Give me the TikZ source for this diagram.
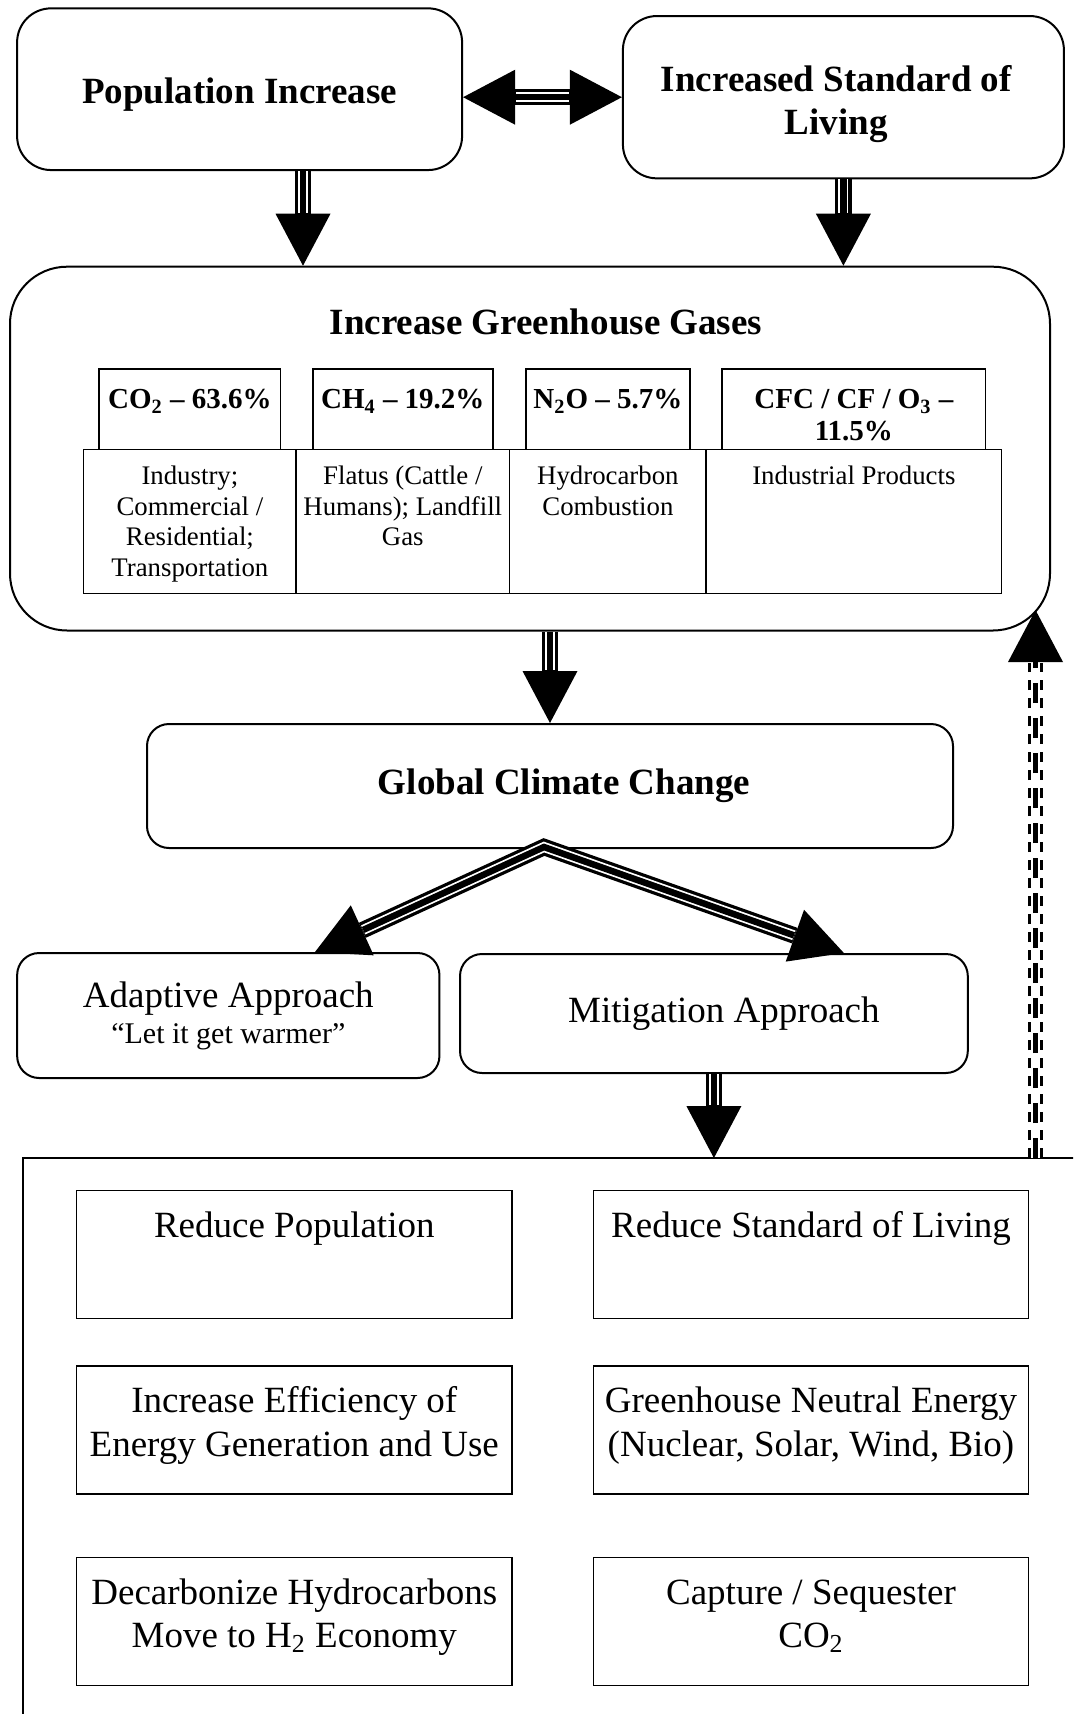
\documentclass[tikz,border=0pt]{standalone}
\usepackage{fontspec}
\setmainfont{Liberation Serif}
\usetikzlibrary{arrows.meta,positioning,calc}
\newcommand{\bigsize}{\fontsize{18.5}{21.75}\selectfont}
\newcommand{\gassize}{\fontsize{14.5}{15.55}\selectfont}
\newcommand{\srcsize}{\fontsize{13.4}{15.35}\selectfont}
\newcommand{\quotesize}{\fontsize{15}{18}\selectfont}
\newcommand{\topbox}[4]{\parbox[c][#2][t]{#1}{\centering\rule{0pt}{#3}#4}}

\begin{document}
\begin{tikzpicture}[x=0.5pt, y=-0.5pt,
  >={Triangle[length=26pt,width=27.5pt,line width=0pt]},
  rbox/.style={draw, line width=1pt, rounded corners=11pt, fill=white, inner sep=0pt, align=center, font=\bigsize},
  boxtext/.style={inner sep=0pt, align=center, font=\bigsize},
  cell/.style={draw, line width=0.75pt, fill=white, inner sep=0pt, outer sep=0pt},
  optbox/.style={draw, line width=0.75pt, fill=white, inner sep=0pt, outer sep=0pt, font=\bigsize},
  flow/.style={->, line width=8.25pt, postaction={draw, white, line width=5pt, -, shorten >=26.5pt}, postaction={draw, black, line width=3.25pt, -, shorten >=26.5pt}},
  flowboth/.style={<->, line width=8.25pt, postaction={draw, white, line width=5pt, -, shorten >=26.5pt, shorten <=26.5pt}, postaction={draw, black, line width=3.25pt, -, shorten >=26.5pt, shorten <=26.5pt}},
  feedback/.style={->, line width=2.5pt, dash pattern=on 10pt off 7.5pt, preaction={draw, double, double distance=4.75pt, line width=1.25pt, dash pattern=on 5pt off 4pt, -, shorten >=26.5pt}}]
\useasboundingbox (0,0) rectangle (1073,1714);
\clip (0,0) rectangle (1073,1714);

\node[rbox, rounded corners=17pt, minimum width=222.5pt, minimum height=80.85pt] (pop) at (239.6,89.2) {};
\node[boxtext, font=\bigsize\bfseries] (poptext) at ($(pop)+(0,5.5)$) {Population Increase};
\node[rbox, rounded corners=17pt, minimum width=220.5pt, minimum height=81.15pt] (living) at (843.4,97.2) {};
\node[boxtext, font=\bigsize\bfseries] (livingtext) at ($(living)+(-7,7)$) {Increased Standard of\\Living};

\node[rbox, rounded corners=28.5pt, minimum width=520pt, minimum height=181.9pt] (ghg) at (530,448.6) {};
\node[font=\bigsize\bfseries, anchor=base] (ghgtitle) at (546,334) {Increase Greenhouse Gases};
\node[cell, font=\gassize\bfseries] (co2) at (189.9,409.2) {\topbox{90.7pt}{40.15pt}{19.95pt}{CO\textsubscript{2} -- 63.6\%}};
\node[cell, font=\gassize\bfseries] (ch4) at (402.8,409.2) {\topbox{90pt}{40.15pt}{19.95pt}{CH\textsubscript{4} -- 19.2\%}};
\node[cell, font=\gassize\bfseries] (n2o) at (607.9,409.2) {\topbox{82.15pt}{40.15pt}{19.95pt}{N\textsubscript{2}O -- 5.7\%}};
\node[cell, font=\gassize\bfseries] (cfc) at (853.9,409.2) {\topbox{131.75pt}{40.15pt}{19.95pt}{CFC / CF / O\textsubscript{3} --\\11.5\%}};
\node[cell, font=\srcsize, below=0pt of co2] (co2src) {\topbox{106.45pt}{72pt}{17.5pt}{Industry;\\Commercial /\\Residential;\\Transportation}};
\node[cell, font=\srcsize, below=0pt of ch4] (ch4src) {\topbox{106.75pt}{72pt}{17.5pt}{Flatus (Cattle /\\Humans); Landfill\\Gas}};
\node[cell, font=\srcsize, below=0pt of n2o] (n2osrc) {\topbox{98.25pt}{72pt}{17.5pt}{Hydrocarbon\\Combustion}};
\node[cell, font=\srcsize, below=0pt of cfc] (cfcsrc) {\topbox{147.5pt}{72pt}{17.5pt}{Industrial Products}};

\node[rbox, minimum width=403pt, minimum height=62pt] (gcc) at (550,786) {};
\node[boxtext, font=\bigsize\bfseries] (gcctext) at ($(gcc)+(14,0)$) {Global Climate Change};
\node[rbox, minimum width=211.15pt, minimum height=62.5pt] (adapt) at (228.3,1015.5) {Adaptive Approach\\[-3.75pt]{\quotesize ``Let it get warmer''}};
\node[rbox, minimum width=253.9pt, minimum height=59.5pt] (mitig) at (713.9,1013.5) {};
\node[boxtext] (mitigtext) at ($(mitig)+(10,0)$) {Mitigation Approach};

\node[draw, line width=1pt, minimum width=550pt, minimum height=300pt, inner sep=0pt, outer sep=0pt] (options) at (572.5,1458) {};
\node[optbox] (redpop) at (294.3,1254.6) {\topbox{217.65pt}{64pt}{23.35pt}{Reduce Population}};
\node[optbox, right=40.7pt of redpop] (redliving) {\topbox{217.65pt}{64pt}{23.35pt}{Reduce Standard of Living}};
\node[optbox, below=23.75pt of redpop] (effic) {\topbox{217.65pt}{64pt}{23.35pt}{Increase Efficiency of\\Energy Generation and Use}};
\node[optbox, below=23.75pt of redliving] (neutral) {\topbox{217.65pt}{64pt}{23.35pt}{Greenhouse Neutral Energy\\(Nuclear, Solar, Wind, Bio)}};
\node[optbox, below=31.65pt of effic] (decarb) {\topbox{217.65pt}{64pt}{23.35pt}{Decarbonize Hydrocarbons\\Move to H\textsubscript{2} Economy}};
\node[optbox, below=31.65pt of neutral] (capture) {\topbox{217.65pt}{64pt}{23.35pt}{Capture / Sequester\\CO\textsubscript{2}}};

\draw[flowboth] (pop.east |- living.west) -- (living.west);
\coordinate (popout) at ($(pop.south)+(63.4,0)$);
\draw[flow] (popout) -- (popout |- ghg.north);
\draw[flow] (living.south) -- (living.south |- ghg.north);
\draw[flow] (ghg.south -| gcc.north) -- (gcc.north);
\coordinate (split) at ($(gcc.south)+(-6,-2)$);
\draw[flowboth] ($(adapt.north)+(86.7,0)$) -- (split) -- ($(mitig.north)+(130,0)$);
\draw[flow] (mitig.south) -- (mitig.south |- options.north);
\coordinate (fbtip) at (1035.5,610);
\draw[feedback] (fbtip |- options.north) -- (fbtip);
\end{tikzpicture}
\end{document}
